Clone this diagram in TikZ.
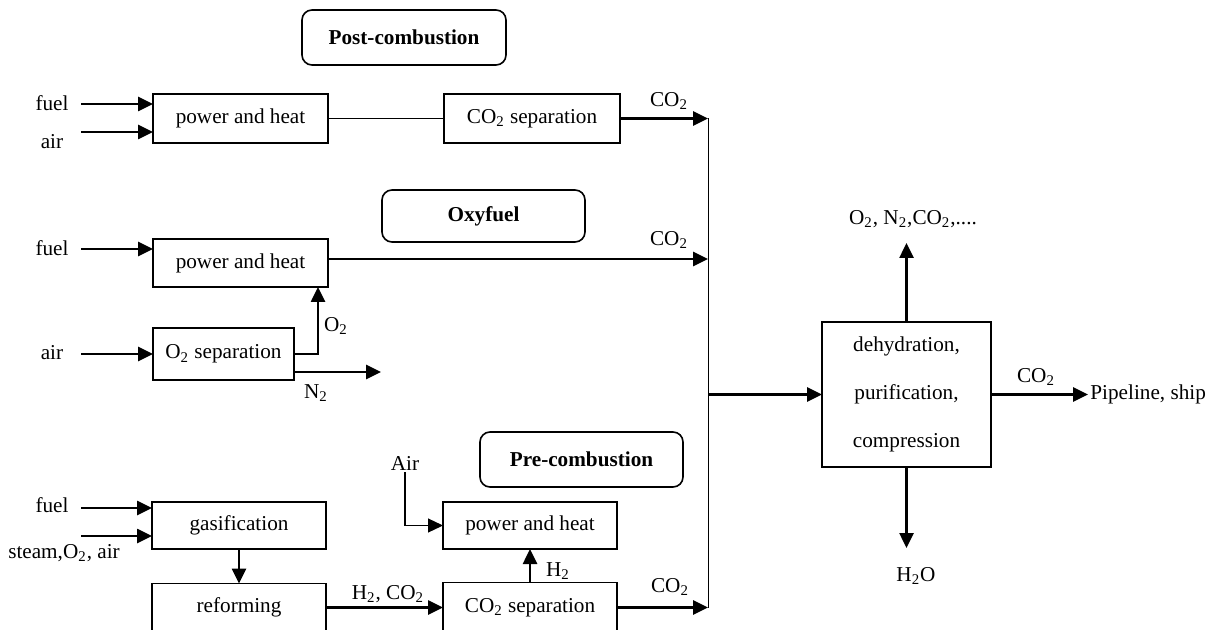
\documentclass[tikz,border=0pt]{standalone}
\usepackage{fontspec}
\setmainfont{Liberation Serif}
\usetikzlibrary{arrows.meta}
\newcommand{\two}{\textsubscript{2}}
\tikzset{box/.style={draw,line width=0.7pt,inner sep=0pt,outer sep=0pt,align=center},
    tag/.style={draw,line width=0.8pt,rounded corners=5pt,inner sep=0pt,outer sep=0pt,font=\fontsize{10.6}{12.7}\selectfont\bfseries},
    flow/.style={line width=1.3pt,-{Triangle[length=7.5pt,width=7pt]}},
    bus/.style={line width=0.5pt},
    lbl/.style={inner sep=1pt}
}

\begin{document}
\begin{tikzpicture}[x=0.5pt,y=-0.5pt,font=\fontsize{10.6}{12.7}\selectfont]
                \useasboundingbox (0,0) rectangle (1229,630);

                % Post-combustion
                \node[tag,minimum width=102pt,minimum height=27.5pt] (post) at (404,37.5) {Post-combustion};
                \node[box,minimum width=87.5pt,minimum height=24.5pt] (ph1) at (240.5,118.5) {power and heat};
                \node[box,minimum width=88pt,minimum height=24.5pt] (sep1) at (532,118.5) {CO\two{} separation};
                \node[lbl] (fuel1) at (52,103) {fuel};
                \node[lbl] (air1) at (52,142) {air};
                \coordinate (f1) at (81,104);
                \coordinate (a1) at (81,132);
                \draw[flow] (f1) -- (f1 -| ph1.west);
                \draw[flow] (a1) -- (a1 -| ph1.west);
                \draw[bus] (ph1.east) -- (sep1.west);

                % collecting line
                \coordinate (bt) at (708,118.5);
                \coordinate (bb) at (708,607.5);
                \draw[bus] (bt) -- (bb);
                \draw[flow] (sep1.east) -- (bt);
                \node[lbl] (c1) at (669,101) {CO\two};

                % Oxyfuel
                \node[tag,minimum width=101.5pt,minimum height=26pt] (oxy) at (483.5,216) {Oxyfuel};
                \node[box,minimum width=87.5pt,minimum height=24pt] (ph2) at (240.5,263) {power and heat};
                \node[box,minimum width=70.5pt,minimum height=26pt] (o2sep) at (223.5,354) {O\two{} separation};
                \node[lbl] (fuel2) at (52,248) {fuel};
                \node[lbl] (air2) at (52,353) {air};
                \coordinate (f2) at (81,249);
                \coordinate (a2) at (81,354);
                \draw[flow] (f2) -- (f2 -| ph2.west);
                \draw[flow] (a2) -- (a2 -| o2sep.west);
                \draw[flow] ([yshift=2pt]ph2.east) -- ([yshift=2pt]ph2.east -| bt);
                \node[lbl] (c2) at (669,240) {CO\two};
                \draw[flow] (o2sep.east) -| ([xshift=-5pt]ph2.south east);
                \node[lbl] (o2) at (336,326) {O\two};
                \coordinate (n2end) at (381,372);
                \draw[flow] (o2sep.south east |- n2end) -- (n2end);
                \node[lbl] (n2) at (316,393) {N\two};

                % Pre-combustion
                \node[tag,minimum width=101.5pt,minimum height=27.5pt] (pre) at (581.5,459.5) {Pre-combustion};
                \node[box,minimum width=87pt,minimum height=23.5pt] (gas) at (239,525.5) {gasification};
                \node[box,minimum width=87pt,minimum height=24pt] (ref) at (239,607.5) {reforming};
                \node[box,minimum width=87pt,minimum height=23.5pt] (ph3) at (530,525.5) {power and heat};
                \node[box,minimum width=87pt,minimum height=25pt] (sep2) at (530,607.5) {CO\two{} separation};
                \node[lbl] (fuel3) at (52,505) {fuel};
                \node[lbl] (steam) at (64,553) {steam,O\two, air};
                \node[lbl] (air3) at (405,463) {Air};
                \coordinate (f3) at (81,508);
                \coordinate (s3) at (81,536);
                \draw[flow] (f3) -- (f3 -| gas.west);
                \draw[flow] (s3) -- (s3 -| gas.west);
                \draw[flow] (gas.south) -- (ref.north);
                \draw[flow] (ref.east) -- (sep2.west);
                \node[lbl] (h2co2) at (388,594) {H\two, CO\two};
                \draw[flow] (sep2.north) -- (ph3.south);
                \node[lbl] (h2) at (558,571) {H\two};
                \draw[line width=0.6pt,-{Triangle[length=7.5pt,width=7pt]}] (air3.south) |- (ph3.west);
                \draw[flow] (sep2.east) -- (bb);
                \node[lbl] (c3) at (670,587) {CO\two};

                % dehydration, purification, compression
                \node[box,minimum width=84.5pt,minimum height=72.5pt,font=\fontsize{10.6}{24}\selectfont] (dpc) at (906.5,394.5) {dehydration,\\purification,\\compression};
                \draw[flow] (dpc.west -| bt) -- (dpc.west);
                \node[lbl] (gases) at (913,219) {O\two, N\two,CO\two,....};
                \draw[flow] (dpc.north) -- (dpc.north |- 0,243);
                \node[lbl] (h2o) at (916,576) {H\two O};
                \draw[flow] (dpc.south) -- (dpc.south |- 0,548);
                \node[lbl,anchor=west] (ship) at (1088,394.5) {Pipeline, ship};
                \draw[flow] (dpc.east) -- (ship.west);
                \node[lbl] (c4) at (1036,377) {CO\two};
            \end{tikzpicture}
\end{document}
